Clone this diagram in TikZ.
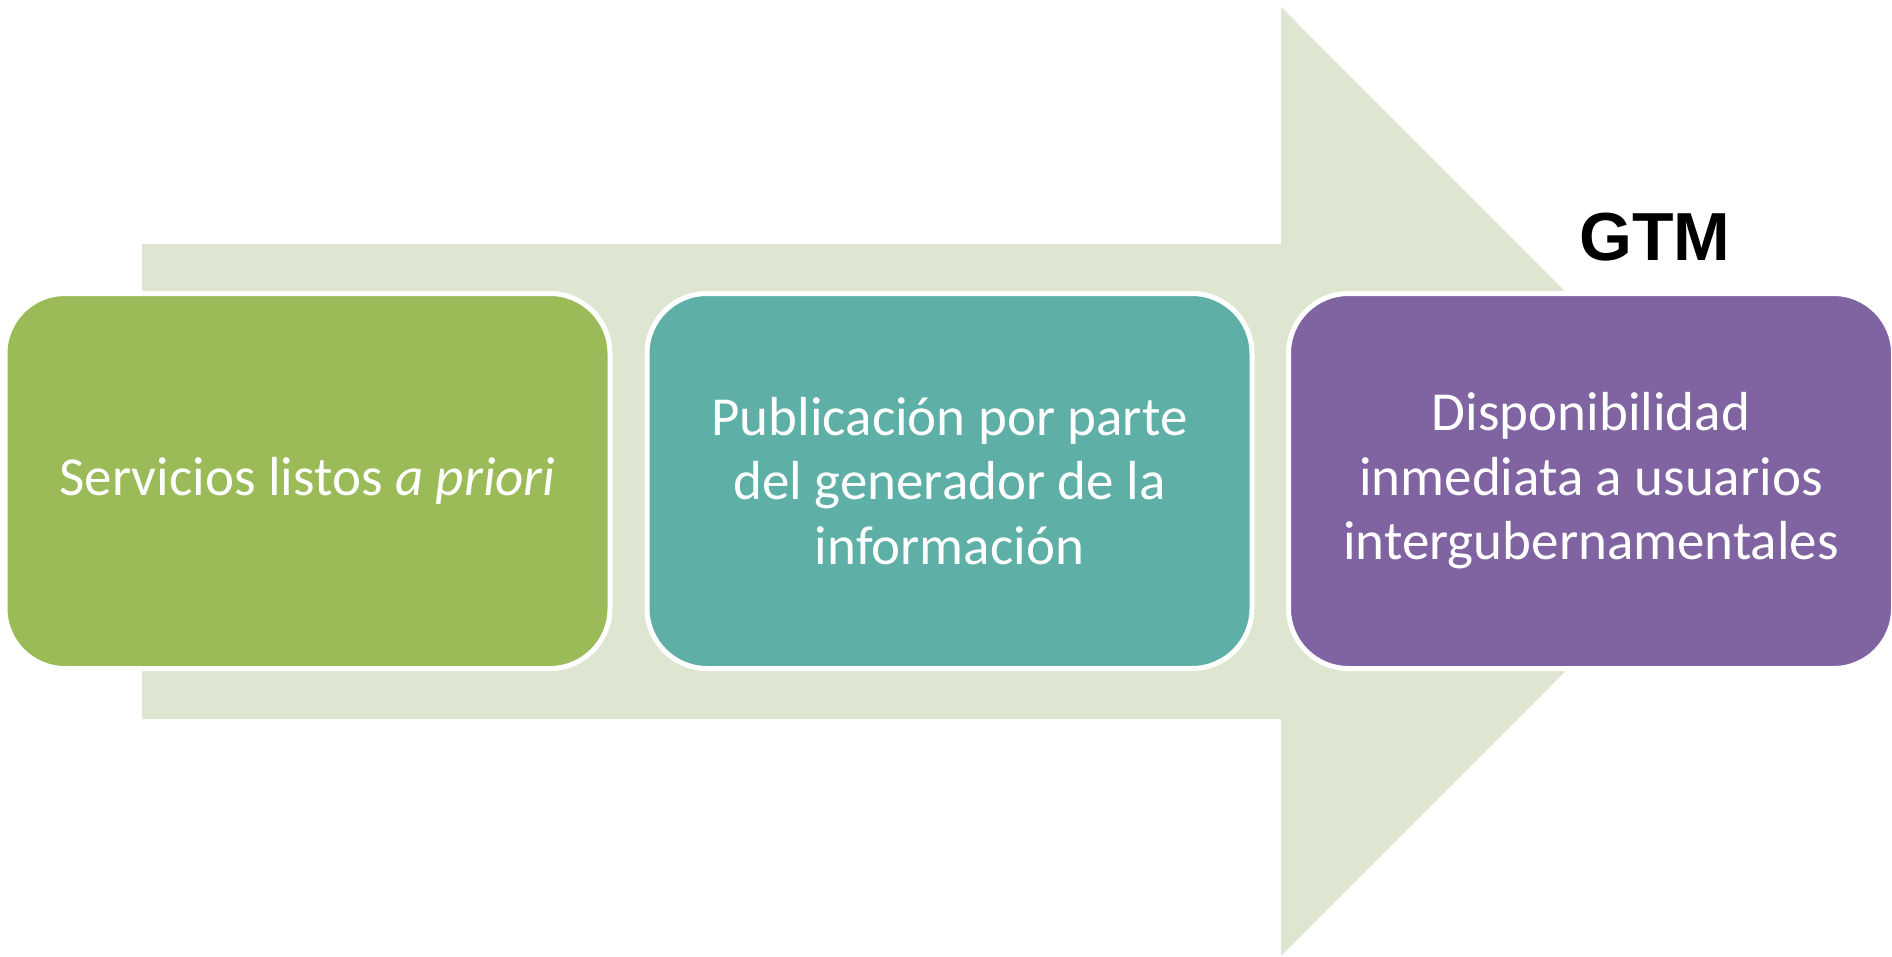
\documentclass[tikz,border=0pt]{standalone}
\usepackage{fontspec}
\setmainfont{Carlito}
\newfontfamily\gtmfont{Liberation Sans}
\definecolor{arrowbg}{HTML}{DEE6D1}
\definecolor{boxgreen}{HTML}{9BBB59}
\definecolor{boxteal}{HTML}{5EAFA6}
\definecolor{boxpurple}{HTML}{8064A2}
\tikzset{
  stagebox/.style={draw=white, line width=5pt, rounded corners=60pt,
    minimum width=605pt, minimum height=375pt, inner sep=0pt,
    align=center, text=white, font=\fontsize{55}{64.5}\selectfont},
}
\begin{document}
\begin{tikzpicture}[x=1pt,y=-1pt]
\useasboundingbox (0,0) rectangle (1892,956);
% big background arrow
\fill[arrowbg] (142,244) -- (1281,244) -- (1281,7) -- (1755,481.5)
  -- (1281,956) -- (1281,719) -- (142,719) -- cycle;
% stage boxes
\node[stagebox, fill=boxgreen] (s1) at (307.5,481) {Servicios listos \textit{a priori}};
\node[stagebox, fill=boxteal] (s2) at (949.5,481) {Publicación por parte\\del generador de la\\información};
\node[stagebox, fill=boxpurple] (s3) at (1591,481) {Disponibilidad\\inmediata a usuarios\\intergubernamentales};
% label
\node[font=\gtmfont\bfseries\fontsize{68}{68}\selectfont, inner sep=0pt, anchor=base] (gtm) at (1655,260) {GTM};
\end{tikzpicture}
\end{document}
